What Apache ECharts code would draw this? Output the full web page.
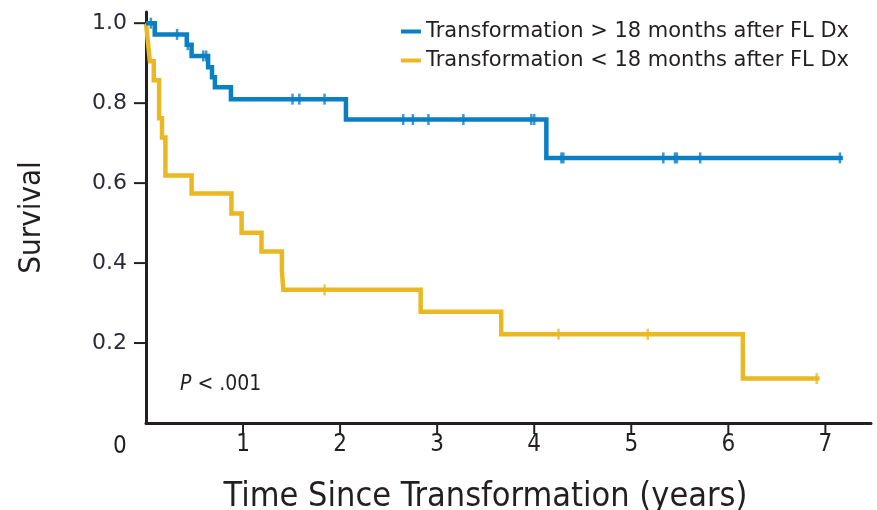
<!DOCTYPE html>
<html><head><meta charset="utf-8">
<script src="https://cdn.jsdelivr.net/npm/echarts@6/dist/echarts.min.js"></script>
<style>html,body{margin:0;padding:0;background:#fff}#c{width:877px;height:510px}</style>
</head><body><div id="c"></div>
<script>
const xTicks = [0, 1, 2, 3, 4, 5, 6, 7];
const yTicks = [0, 0.2, 0.4, 0.6, 0.8, 1.0];
const seriesNames = ['Transformation > 18 months after FL Dx', 'Transformation < 18 months after FL Dx'];
// Kaplan-Meier curves: event times (years) and survival after each event
const lateTimes  = [0, 0.09, 0.42, 0.47, 0.64, 0.68, 0.71, 0.875, 2.06, 4.125, 7.18];
const lateSurv   = [1.0, 0.972, 0.946, 0.918, 0.89, 0.865, 0.84, 0.81, 0.759, 0.663, 0.663];
const lateCensor = [0.05, 0.32, 0.43, 0.59, 0.62, 1.51, 1.58, 1.84, 2.65, 2.75, 2.91, 3.27, 3.97, 4.00, 4.28, 4.30, 5.33, 5.45, 5.47, 5.71, 7.15];
const earlyTimes  = [0, 0.02, 0.04, 0.08, 0.135, 0.165, 0.20, 0.47, 0.88, 0.985, 1.19, 1.40, 1.415, 2.83, 3.66, 6.15, 6.94];
const earlySurv   = [1.0, 0.952, 0.905, 0.857, 0.762, 0.714, 0.619, 0.574, 0.524, 0.476, 0.429, 0.381, 0.333, 0.278, 0.222, 0.111, 0.111];
const earlyCensor = [1.84, 4.25, 5.17, 6.91];

const BLUE = '#0b7fc4', YELLOW = '#e9b822', INK = '#231f20';
const NARROW = "'Liberation Sans Narrow','DejaVu Sans Condensed',sans-serif";
const WIDE = "'DejaVu Sans',sans-serif";

function pairs(ts, ss) { return ts.map((t, i) => [t, ss[i]]); }
function levelAt(ts, ss, t) { let v = ss[0]; for (let i = 0; i < ts.length; i++) { if (ts[i] <= t) v = ss[i]; } return v; }
function censorPts(cs, ts, ss) { return cs.map(t => [t, levelAt(ts, ss, t)]); }

// axis ticks drawn through the axis scales (only at the listed tick values)
function tickSeries(name, values, dir) {
  return {
    name: name, type: 'custom', silent: true, clip: false, z: 10,
    data: values.map(v => dir === 'x' ? [v, 0] : [0, v]),
    renderItem: function (params, api) {
      const p = api.coord([api.value(0), api.value(1)]);
      const shape = dir === 'x'
        ? {x: p[0] - 1, y: p[1] + 1, width: 2, height: 10}
        : {x: p[0] - 12, y: p[1] - 1, width: 11, height: 2};
      return {type: 'rect', shape: shape, style: {fill: INK}};
    }
  };
}

const chart = echarts.init(document.getElementById('c'), null, {renderer: 'canvas'});
chart.setOption({
  animation: false,
  backgroundColor: '#fff',
  grid: {left: 146, right: 6, top: 12, bottom: 87, outerBoundsMode: 'none', containLabel: false},
  legend: {
    orient: 'vertical', right: 28, top: 21, padding: 0, itemGap: 8,
    itemWidth: 20, itemHeight: 4, icon: 'rect',
    textStyle: {fontFamily: WIDE, fontSize: 21, color: INK, lineHeight: 20},
    data: seriesNames
  },
  xAxis: {
    type: 'value', min: 0, max: 7.47, interval: 1,
    name: 'Time Since Transformation (years)', nameLocation: 'middle', nameGap: 57,
    nameTextStyle: {fontFamily: NARROW, fontSize: 34, color: INK, padding: [0, 46, 0, 0]},
    axisLine: {lineStyle: {color: INK, width: 3}},
    axisTick: {show: false},
    axisLabel: {margin: 10, fontFamily: NARROW, fontSize: 24, color: INK, customValues: xTicks.slice(1),
      formatter: v => String(v)},
    splitLine: {show: false}
  },
  yAxis: {
    type: 'value', min: 0, max: 1.028, interval: 0.2,
    name: 'Survival', nameLocation: 'middle', nameGap: 99, nameRotate: 90,
    nameTextStyle: {fontFamily: NARROW, fontSize: 31, color: INK},
    axisLine: {show: true, lineStyle: {color: INK, width: 3}},
    axisTick: {show: false},
    axisLabel: {margin: 19, fontFamily: WIDE, fontSize: 22, color: '#2a2a3a', customValues: yTicks.slice(1),
      formatter: v => v.toFixed(1)},
    splitLine: {show: false}
  },
  graphic: [
    {type: 'text', left: 113, top: 435, style: {text: String(xTicks[0]), font: "24px 'Liberation Sans Narrow','DejaVu Sans Condensed',sans-serif", fill: INK}},
    {type: 'text', left: 180, top: 374, style: {
      text: '{i|P} < .001',
      rich: {i: {fontStyle: 'italic', fontFamily: NARROW, fontSize: 21, fill: INK}},
      fontFamily: NARROW, fontSize: 21, fill: INK}}
  ],
  series: [
    {name: seriesNames[1], type: 'line', step: 'end', data: pairs(earlyTimes, earlySurv),
      showSymbol: false, color: YELLOW, lineStyle: {color: YELLOW, width: 4.5, join: 'miter', cap: 'butt'}, z: 2},
    {name: seriesNames[0], type: 'line', step: 'end', data: pairs(lateTimes, lateSurv),
      showSymbol: false, color: BLUE, lineStyle: {color: BLUE, width: 4.5, join: 'miter', cap: 'butt'}, z: 3},
    {name: 'censorEarly', type: 'scatter', data: censorPts(earlyCensor, earlyTimes, earlySurv),
      symbol: 'rect', symbolSize: [2.5, 11], itemStyle: {color: YELLOW}, z: 4},
    {name: 'censorLate', type: 'scatter', data: censorPts(lateCensor, lateTimes, lateSurv),
      symbol: 'rect', symbolSize: [2.5, 11], itemStyle: {color: BLUE}, z: 5},
    tickSeries('xTickMarks', xTicks.slice(1), 'x'),
    tickSeries('yTickMarks', yTicks.slice(1), 'y')
  ]
});
</script></body></html>
